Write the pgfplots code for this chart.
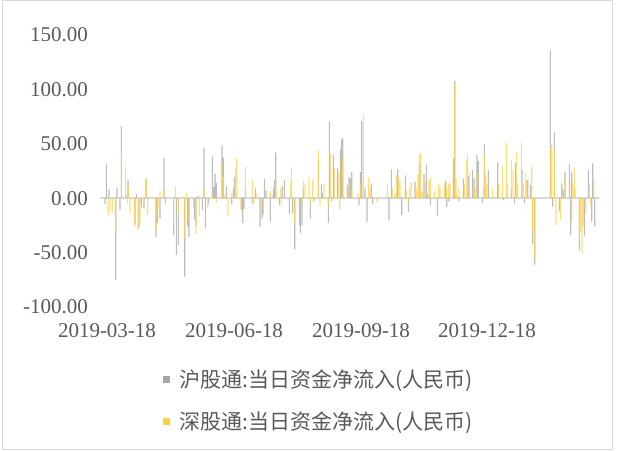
\documentclass[border=0pt]{standalone}
\usepackage{pgfplots}
\pgfplotsset{compat=1.18}
\usepackage{fontspec}
\setmainfont{Liberation Serif}
\newfontfamily\cjk{Noto Sans CJK SC}
\definecolor{txt}{HTML}{595959}
\definecolor{sgray}{HTML}{A5A5A5}
\definecolor{syel}{HTML}{FFC000}
\definecolor{bgray}{HTML}{BDBDBD}
\definecolor{byel}{HTML}{FFD34D}
\definecolor{zline}{HTML}{D9D9D9}
\begin{document}
\begin{tikzpicture}[x=1pt,y=1pt]
\path[use as bounding box] (0,0) rectangle (621,450);
\draw[zline, line width=0.8pt] (2,0.5) rectangle (612.5,449.5);
\begin{axis}[
  at={(80pt,143pt)}, anchor=south west, scale only axis,
  width=520pt, height=272pt,
  xmin=80, xmax=600, ymin=-100, ymax=150,
  axis line style={draw=none}, tick style={draw=none},
  clip=false,
  ytick={-100,-50,0,50,100,150},
  yticklabels={-100.00,-50.00,0.00,50.00,100.00,150.00},
  xtick={107,234,361,487},
  xticklabels={2019-03-18,2019-06-18,2019-09-18,2019-12-18},
  ticklabel style={font=\fontsize{21}{23}\selectfont, text=txt, inner sep=0pt},
  yticklabel style={anchor=east, xshift=8pt},
  xticklabel style={anchor=north, yshift=-16pt},
  legend style={at={(axis description cs:0.1596,-0.222)}, anchor=north west, draw=none, fill=none,
    font=\fontsize{21}{23}\selectfont\cjk, text=txt, row sep=19pt, inner sep=0pt,
    legend cell align=left},
]
\draw[zline, line width=1.6pt] (axis cs:100,0) -- (axis cs:599,0);
\addplot[ybar, bar shift=0pt, bar width=1.1pt, draw=none, fill=bgray,
  legend image code/.code={\fill[sgray] (0pt,-3.5pt) rectangle (7pt,3.5pt); \path (0pt,0pt) -- (14pt,0pt);}] coordinates {
(105,-5.5) (106.3,31.8) (109,8) (115.7,-75) (117,9.5) (120,-11) (121.3,66) (126,3) (128,16.5) (135,-24)
(136.3,4) (139,-27) (141.3,-8) (144,-9.5) (146,18) (156,-35.5) (157.3,-23) (160,-18.7) (164,37) (165.3,-5)
(173.6,-34) (176.3,-52) (178.3,-43) (184.7,-72) (187.7,-26) (189,-35.5) (194.3,-20) (196,-25) (198,2) (202.3,-11)
(204,46.5) (205.3,-28) (208.3,-5.5) (212.3,38.5) (213.7,10.4) (215,22.6) (216.3,14) (222,48.6) (223.3,37.3) (226.3,11)
(231.7,-5.5) (233.3,9) (234.3,19.6)
(241.7,-11) (242.7,-23) (244,-9.5) (245.3,9) (252.3,-5) (255.3,9) (260,-26) (262,-18.7) (263,-15.6) (264.3,17.5)
(266,7.3) (270.3,-21.7) (273.3,9) (274.3,16.5) (275.7,42) (279.3,-6.4) (282.3,11) (284.3,16.5) (289.3,-14.7) (292.7,-14)
(294.7,-47) (299.3,-25) (300.3,-32.4) (302,-25) (303.3,9) (310.3,-18.7)
(314,-3) (318.3,35) (321.3,12) (322.3,5) (328.3,-23) (329.3,70.7) (331.7,-3) (333.3,40) (337.3,28) (340.3,45.6)
(341.7,54) (342.7,55) (347.3,12) (349,19.6) (350.3,18) (351.7,24) (359,-6.4) (360.3,24) (361.7,71) (365,9)
(367,-22) (371.3,13.5) (372.7,-5)
(389,-20) (391.3,26.6) (397.7,26.6) (401.7,-15.6) (405.3,21) (408.3,-12.5) (415,15) (419.3,31.8) (424,22) (426.3,31)
(428,4) (430.3,-6.4) (437.3,-16.5) (445.7,16) (446.7,-8) (448.7,-3)
(453.3,36.4) (454.7,108) (459,-3) (463.3,17.5) (468.3,20) (472.3,25.7) (474,19) (477,40) (478.3,34) (482.3,-4)
(484.3,49.6) (488.3,25.7) (497.7,32.7) (503.3,-2) (511.3,8) (514.3,-5) (515.3,32.4)
(522,26) (524.3,-4.7) (527.7,16.7) (530.7,12) (532.7,-42) (534.7,-61)
(550.3,136) (552.7,-7.8) (554.3,61) (559.3,-12) (561.7,13.6) (563.3,7.5) (565,24) (569.3,31.4) (570.7,-34) (571.7,23.5)
(579.3,-48) (584.3,-35) (588.3,26) (591.7,-21.4) (592.7,32) (594.7,-26)
};
\addlegendentry{沪股通:当日资金净流入(人民币)}
\addplot[ybar, bar shift=0pt, bar width=1.1pt, draw=none, fill=byel, fill opacity=0.75,
  legend image code/.code={\fill[syel] (0pt,-3.5pt) rectangle (7pt,3.5pt); \path (0pt,0pt) -- (14pt,0pt);}] coordinates {
(108,-16) (110,-13) (112.3,-12.5) (115.7,-32) (121.3,44) (125.3,29) (127.3,-5) (128.3,11) (130,-14) (134.7,-26)
(138,-29) (140,-22) (146.3,17.5) (147.7,-15.6) (156,-29) (157.3,-14) (159,-9.5) (160,7) (164,6.4)
(173.6,-22) (175.3,10.4) (178.3,-14) (184.7,-37) (186.3,5.2) (189,-21) (193.3,-8) (196,-32) (199.3,-17) (204,9)
(207.3,-8) (212.3,3) (216.3,-4) (222,31.8) (223.3,20) (225,4) (228,-16) (231.7,5) (235.7,28) (236.7,36.6) (241,-11)
(245.3,28.8) (252.3,16) (254,-5.5) (257,5) (262,-10) (270.3,6.4) (272,3) (275.7,18) (280.7,9) (281,-6)
(290.7,15) (291.3,28) (294.7,-22) (302,-5) (303.3,15.6) (305,13.5) (309,19) (310.3,-6.4)
(312.7,17) (318.3,43.5) (320,-7) (324,13) (328.3,-7) (330.3,41) (334.3,27) (338.7,24) (339.7,-10) (342.7,37)
(349,14) (351.7,7.5) (357.7,4) (360.3,13.5) (363.3,77) (368.7,19) (370,9.5) (376.7,-3.4)
(387.3,13.5) (392.3,9) (395,4) (396.3,21) (399,19.6) (400,15) (406.3,7.3) (408.3,-5) (409.3,10) (411,14.7)
(416.3,9) (418,22) (419.3,41) (420.7,41) (422.3,6) (425.3,16.5) (429,16.5) (430.3,19) (434.3,6.7) (438.7,13)
(440,9.5) (444.3,14.4) (446.7,10) (448.7,13.5) (450,14)
(454.7,105) (456,18) (457.3,3) (459,9) (464.3,13) (466.3,35) (467.3,41) (469.3,22.6) (474,9) (475.3,10)
(477,24) (483.7,10) (484.3,38) (485.7,22.6) (487,13.5) (492.3,9) (498.7,13.5) (502.3,29.4) (506.3,50.8) (507.3,13.5)
(511.3,35) (513,25.7) (516.3,42.5) (517.7,14.4) (521.3,51)
(523.3,13.6) (525.3,23) (526.7,16.7) (531.7,29) (532.7,-29) (534.7,-55)
(550.3,46) (551.7,49) (554.3,44) (556,-24.6) (560.3,-20) (565,18) (571.7,-20) (572.7,13.6) (574.3,28) (575.3,8)
(579.3,-38.5) (580.7,-30.7) (582,-50.7) (583.3,-26) (585.7,-14) (589.3,13.6) (590.7,-6) (593.7,16.7)
};
\addlegendentry{深股通:当日资金净流入(人民币)}
\end{axis}
\end{tikzpicture}
\end{document}
